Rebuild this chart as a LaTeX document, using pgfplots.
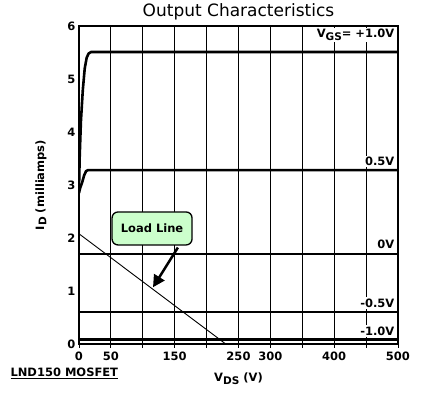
\documentclass[border=0pt]{standalone}
\usepackage{pgfplots}
\pgfplotsset{compat=1.18}
\usepackage{fontspec}
\setmainfont{DejaVu Sans}
\usetikzlibrary{arrows.meta}
\definecolor{callout}{HTML}{CCFFCC}
\newcommand\sub[1]{\raisebox{-0.35ex}{\fontsize{10.5}{11}\selectfont #1}}
\begin{document}
\begin{tikzpicture}
\begin{axis}[
  scale only axis, width=319pt, height=318pt,
  xmin=0, xmax=500, ymin=0, ymax=6,
  axis line style={line width=2pt},
  xtick={0,50,...,500},
  xticklabels={0,50,,150,,250,300,,400,,500},
  ytick={0,1,...,6},
  /pgf/number format/assume math mode=true,
  ticklabel style={font=\fontsize{11.5}{12}\selectfont\bfseries},
  x tick style={black, line width=0.8pt},
  xtick pos=bottom, xtick align=outside,
  major tick length=4pt,
  y tick style={draw=none},
  xmajorgrids, major grid style={black, line width=0.8pt},
  title={Output Characteristics},
  title style={font=\fontsize{17}{19}\selectfont, yshift=-4pt},
  xlabel={\textbf{V\sub{DS} (V)}},
  ylabel={\textbf{I\sub{D} (milliamps)}},
  label style={font=\fontsize{11.5}{13}\selectfont},
  xlabel style={yshift=-6pt},
  ylabel style={yshift=14pt},
  clip=true,
]
% +1.0V
\addplot[black, line width=2.6pt, line join=round] coordinates {
 (0,2.9) (1,3.5) (3,4.2) (6,4.8) (9,5.2) (12,5.4) (15,5.48) (19,5.51) (500,5.51)};
% +0.5V
\addplot[black, line width=2.6pt, line join=round] coordinates {
 (0,2.85) (2,2.95) (5,3.05) (8,3.18) (11,3.26) (14,3.28) (500,3.28)};
% 0V
\addplot[black, line width=2.6pt] coordinates {(0,1.70) (500,1.70)};
% -0.5V
\addplot[black, line width=2.6pt] coordinates {(0,0.60) (500,0.60)};
% -1.0V
\addplot[black, line width=2.6pt] coordinates {(0,0.08) (500,0.08)};
% load line
\addplot[black, line width=0.9pt] coordinates {(0,2.08) (230,0)};

\node[anchor=north east, fill=white, inner sep=1.5pt, font=\fontsize{11.5}{13}\selectfont\bfseries]
  at (axis cs:497,5.97) {V\sub{GS}= +1.0V};
\node[anchor=south east, fill=white, inner sep=1.5pt, font=\fontsize{11.5}{13}\selectfont\bfseries]
  at (axis cs:497,3.33) {0.5V};
\node[anchor=south east, fill=white, inner sep=1.5pt, font=\fontsize{11.5}{13}\selectfont\bfseries]
  at (axis cs:497,1.76) {0V};
\node[anchor=south east, fill=white, inner sep=1.5pt, font=\fontsize{11.5}{13}\selectfont\bfseries]
  at (axis cs:497,0.66) {-0.5V};
\node[anchor=south east, fill=white, inner sep=1.5pt, font=\fontsize{11.5}{13}\selectfont\bfseries]
  at (axis cs:497,0.13) {-1.0V};

\draw[black, line width=2.5pt, -{Triangle[length=12pt,width=12pt]}]
  (axis cs:155,1.82) -- (axis cs:116,1.07);
\node[draw=black, line width=1.3pt, fill=callout, rounded corners=6pt,
  minimum width=80pt, minimum height=33pt, inner sep=2pt,
  font=\fontsize{11.5}{13}\selectfont\bfseries]
  at (axis cs:114.5,2.18) {Load Line};
\end{axis}
\node[anchor=base west, font=\fontsize{11.5}{13}\selectfont\bfseries] at (-72pt,-33pt) {\underline{LND150 MOSFET}};
\path (-79pt,-52pt) rectangle (345pt,344pt);
\end{tikzpicture}
\end{document}
